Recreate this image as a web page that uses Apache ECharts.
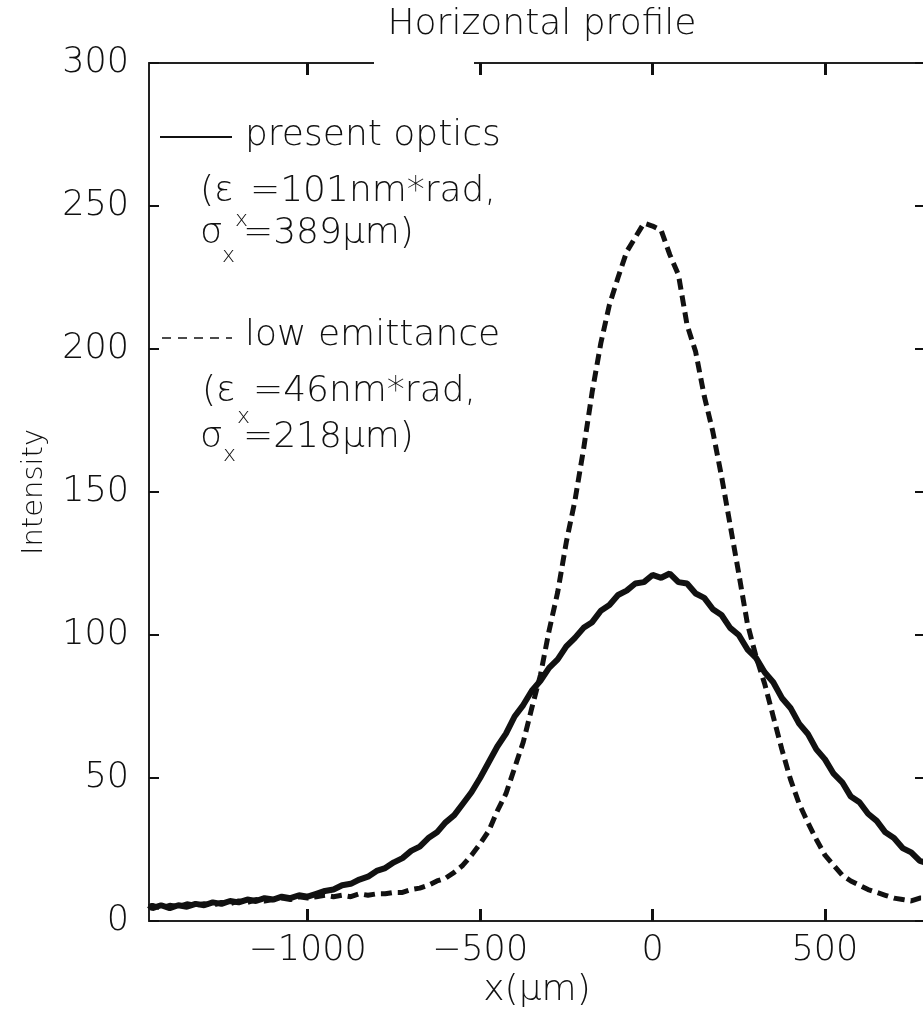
<!DOCTYPE html>
<html><head><meta charset="utf-8">
<script src="https://cdn.jsdelivr.net/npm/echarts@6/dist/echarts.min.js"></script>
<style>html,body{margin:0;padding:0;background:#fff}#c{width:923px;height:1018px}</style>
</head><body><div id="c"></div>
<script>
// x positions (µm)
const xValues = [-1460,-1450,-1425,-1400,-1375,-1350,-1325,-1300,-1275,-1250,-1225,-1200,-1175,-1150,-1125,-1100,-1075,-1050,-1025,-1000,
 -975,-950,-925,-900,-875,-850,-825,-800,-775,-750,-725,-700,-675,-650,-625,-600,-575,-550,-525,-500,
 -475,-450,-425,-400,-375,-350,-325,-300,-275,-250,-225,-200,-175,-150,-125,-100,-75,-50,-25,0,
 25,50,75,100,125,150,175,200,225,250,275,300,325,350,375,400,425,450,475,500,
 525,550,575,600,625,650,675,700,725,750,775,790];
// present optics (solid)
const presentOptics = [5.5,4.5,5.5,4.5,5.5,5,6,5.5,6.5,6,7,6.5,7.5,7,8,7.5,8.5,8,9,8.5,
 9.5,10.5,11,12.5,13,14.5,15.5,17.5,18.5,20.5,22,24.5,26,29,31,34.5,37,41,45,50,
 55.5,61,65.5,71.5,75.5,80.5,84,88.5,91.5,96,99,102.5,104.5,108.5,110.5,114,115.5,118,118.5,121,
 120,121.5,118.5,118,114.5,113,109,107,102.5,100,95,92,87,83.5,78,74.5,69,65.5,60,56.5,
 51.5,48.5,43.5,41.5,37.5,35,31,29,25.5,24,21,20.5];
// low emittance (dashed)
const lowEmittance = [5,5.5,4.5,5.5,5,6,5.5,6,5.5,6.5,6,7,6.5,7.5,7,7.5,8,7.5,8.5,8,
 8.5,9,8.5,9,8.5,9.5,9,9.5,9.5,10,10,11,11.5,12.5,14,15,17,19.5,23,27,
 31.5,38.5,44.5,53.5,62.5,74.5,86,101.5,115,132.5,147,165,185,202,215.5,225,234,239,244,243,
 241.5,233,226,208.5,199,183.5,171,155.5,138.5,121.5,104,92.5,83,71.5,60,49.5,41,34.5,28.5,23,
 19.5,16,14,12.5,11,10,9,8,7.5,7,8,8];
const xTickValues = [-1000,-500,0,500];
const yTickValues = [0,50,100,150,200,250,300];

const FF = '"DejaVu Sans"';
const INK = '#111';
const zip = (xs, ys) => xs.map((x, i) => [x, ys[i]]);
const fmtX = v => (v < 0 ? '\u2212' + Math.abs(v) : String(v));

const chart = echarts.init(document.getElementById('c'), null, {renderer: 'canvas'});
const txt = (x, y, s, size) => ({type: 'text', x: x, y: y, z: 50,
  style: {text: s, fontSize: size, fontFamily: FF, fontWeight: 200, fill: INK, verticalAlign: 'middle', align: 'left'}});

chart.setOption({
  animation: false,
  backgroundColor: '#fff',
  title: {text: 'Horizontal profile', left: 537, top: 2, textAlign: 'center',
    textStyle: {fontSize: 36, fontWeight: 200, fontFamily: FF, color: INK}},
  grid: {left: 149, top: 63, width: 776, height: 858, containLabel: false, outerBoundsMode: 'none'},
  xAxis: [
    {type: 'value', min: -1460, max: 790, position: 'bottom',
     axisLine: {show: true, onZero: false, lineStyle: {color: '#222', width: 2}},
     axisTick: {show: true, inside: true, length: 12, customValues: xTickValues, lineStyle: {color: INK, width: 3}},
     axisLabel: {show: true, customValues: xTickValues, formatter: fmtX, fontSize: 35, fontWeight: 200, fontFamily: FF, color: INK, margin: 12},
     splitLine: {show: false},
     name: 'x(\u03bcm)', nameLocation: 'middle', nameGap: 52,
     nameTextStyle: {fontSize: 36, fontWeight: 200, fontFamily: FF, color: INK}},
    {type: 'value', min: -1460, max: 790, position: 'top',
     axisLine: {show: true, onZero: false, lineStyle: {color: '#222', width: 2}},
     axisTick: {show: true, inside: true, length: 12, customValues: xTickValues, lineStyle: {color: INK, width: 3}},
     axisLabel: {show: false}, splitLine: {show: false}}
  ],
  yAxis: [
    {type: 'value', min: 0, max: 300, interval: 50, position: 'left',
     axisLine: {show: true, onZero: false, lineStyle: {color: '#222', width: 2}},
     axisTick: {show: true, inside: true, length: 10, lineStyle: {color: INK, width: 2}},
     axisLabel: {show: true, fontSize: 35, fontWeight: 200, fontFamily: FF, color: INK, margin: 20},
     splitLine: {show: false},
     name: 'Intensity', nameLocation: 'middle', nameGap: 100,
     nameTextStyle: {fontSize: 29, fontWeight: 200, fontFamily: FF, color: INK}},
    {type: 'value', min: 0, max: 300, interval: 50, position: 'right',
     axisLine: {show: true, onZero: false, lineStyle: {color: '#222', width: 2}},
     axisTick: {show: true, inside: true, length: 10, lineStyle: {color: INK, width: 2}},
     axisLabel: {show: false}, splitLine: {show: false}}
  ],
  series: [
    {name: 'present optics', type: 'line', xAxisIndex: 0, yAxisIndex: 0,
     data: zip(xValues, presentOptics), showSymbol: false, smooth: false,
     lineStyle: {color: INK, width: 6, type: 'solid'}},
    {name: 'low emittance', type: 'line', xAxisIndex: 0, yAxisIndex: 0,
     data: zip(xValues, lowEmittance), showSymbol: false, smooth: false,
     lineStyle: {color: INK, width: 5, type: [11, 6]}}
  ],
  graphic: [
    {type: 'rect', shape: {x: 374, y: 59, width: 100, height: 7}, style: {fill: '#fff'}, z: 100},
    {type: 'line', shape: {x1: 160, y1: 137, x2: 232, y2: 137}, style: {stroke: INK, lineWidth: 2}, z: 50},
    txt(245, 136, 'present optics', 36),
    txt(200, 192, '(\u03b5', 36),
    txt(235, 220, 'x', 22),
    txt(250, 192, '=101nm*rad,', 36),
    txt(200, 234, '\u03c3', 36),
    txt(222, 256, 'x', 22),
    txt(243, 234, '=389\u03bcm)', 36),
    {type: 'line', shape: {x1: 162, y1: 338, x2: 232, y2: 338}, style: {stroke: INK, lineWidth: 1.5, lineDash: [9, 7]}, z: 50},
    txt(245, 336, 'low emittance', 36),
    txt(202, 392, '(\u03b5', 36),
    txt(237, 417, 'x', 22),
    txt(253, 392, '=46nm*rad,', 36),
    txt(200, 438, '\u03c3', 36),
    txt(223, 455, 'x', 22),
    txt(243, 438, '=218\u03bcm)', 36)
  ]
});
</script>
</body></html>
